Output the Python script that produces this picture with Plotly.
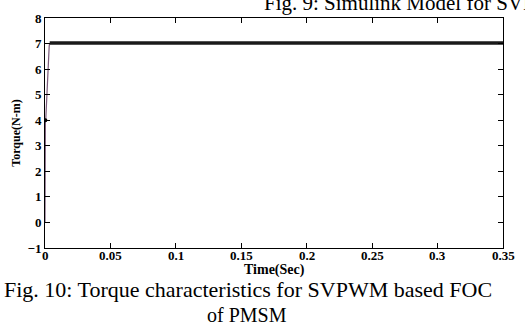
import plotly.graph_objects as go

# Torque response of the SVPWM-based FOC drive
rise_time = [0.0, 0.0, 0.0003, 0.0006, 0.0015, 0.0025, 0.0032, 0.0036]
rise_torque = [0.0, 2.9, 4.0, 4.05, 5.2, 6.3, 6.9, 7.02]
steady_time = [0.0036, 0.35]
steady_torque = [7.02, 7.02]

x_ticks = [0, 0.05, 0.1, 0.15, 0.2, 0.25, 0.3, 0.35]
x_tick_labels = ["0", "0.05", "0.1", "0.15", "0.2", "0.25", "0.3", "0.35"]
y_ticks = [-1, 0, 1, 2, 3, 4, 5, 6, 7, 8]

serif = "Liberation Serif"

fig = go.Figure()
fig.add_trace(go.Scatter(x=rise_time, y=rise_torque, mode="lines",
                         line=dict(color="#7a5a7a", width=1.2), showlegend=False))
fig.add_trace(go.Scatter(x=rise_time[2:3], y=rise_torque[2:3], mode="markers",
                         marker=dict(color="black", size=4), showlegend=False))
fig.add_trace(go.Scatter(x=steady_time, y=steady_torque, mode="lines",
                         line=dict(color="#1a1a1a", width=3.5), showlegend=False))

axis_common = dict(showline=True, linecolor="black", linewidth=1, mirror="ticks",
                   ticks="inside", ticklen=5, tickcolor="black", showgrid=False,
                   zeroline=False,
                   tickfont=dict(family=serif, size=13, color="black", weight="bold"))

fig.update_xaxes(range=[0, 0.35], tickvals=x_ticks, showticklabels=False,
                 **axis_common)
fig.update_yaxes(range=[-1, 8], tickvals=y_ticks,
                 title=dict(text="<b>Torque(N-m)</b>", standoff=4,
                            font=dict(family=serif, size=12, color="black")),
                 **axis_common)

L, R, T, B = 45, 22, 18, 81
W, H = 525, 329
pw, ph = W - L - R, H - T - B


def px(x):
    return (x - L) / pw


def py(y):
    return (H - B - y) / ph


# x tick labels sit tight under the axis line
for tv, tl in zip(x_ticks, x_tick_labels):
    fig.add_annotation(text=f"<b>{tl}</b>", xref="x", yref="paper", x=tv, y=py(255),
                       xanchor="center", yanchor="middle", showarrow=False,
                       font=dict(family=serif, size=13, color="black"))

fig.add_annotation(text="<b>Time(Sec)</b>", xref="paper", yref="paper",
                   x=0.5, y=py(270), xanchor="center", yanchor="middle",
                   showarrow=False, font=dict(family=serif, size=14, color="black"))
fig.add_annotation(text="Fig. 10: Torque characteristics for SVPWM based FOC",
                   xref="paper", yref="paper", x=px(2), y=py(289),
                   xanchor="left", yanchor="middle", showarrow=False,
                   font=dict(family=serif, size=22, color="black"))
fig.add_annotation(text="of PMSM", xref="paper", yref="paper", x=px(247), y=py(315),
                   xanchor="center", yanchor="middle", showarrow=False,
                   font=dict(family=serif, size=20, color="black"))
fig.add_annotation(text="Fig. 9: Simulink Model for SVPWM", xref="paper", yref="paper",
                   x=px(262), y=py(3), xanchor="left", yanchor="middle", showarrow=False,
                   font=dict(family=serif, size=21, color="black"))

fig.update_layout(width=W, height=H, margin=dict(l=L, r=R, t=T, b=B),
                  paper_bgcolor="white", plot_bgcolor="white")

fig.write_html("out.html")
